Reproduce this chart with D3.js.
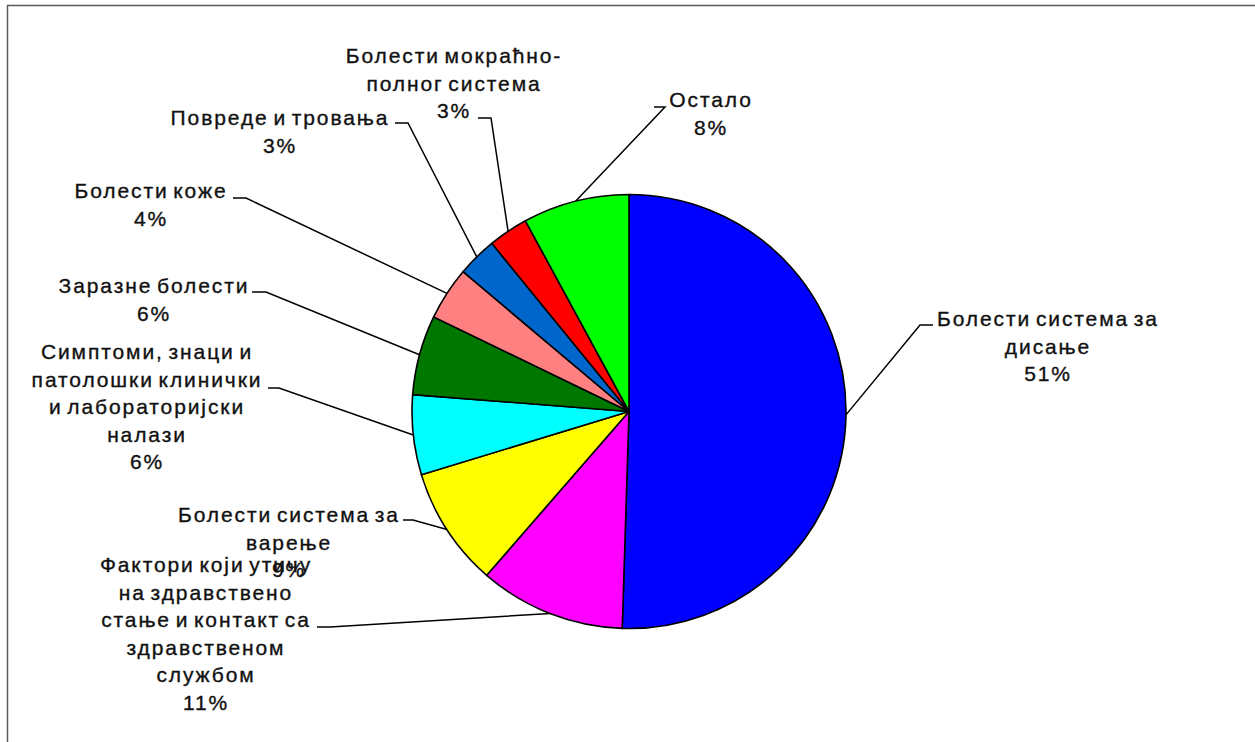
<!DOCTYPE html>
<html>
<head>
<meta charset="utf-8">
<script src="https://cdn.jsdelivr.net/npm/d3@7"></script>
<style>
  html, body { margin: 0; padding: 0; background: #fff; }
  svg { display: block; }
  text { font-family: "Liberation Sans", Arial, sans-serif; fill: #111; }
</style>
</head>
<body>
<svg id="chart" width="1255" height="742"></svg>
<script>
// Hospital discharges by diagnosis group (share, %)
const categories = [
  "Болести система за дисање",
  "Фактори који утичу на здравствено стање и контакт са здравственом службом",
  "Болести система за варење",
  "Симптоми, знаци и патолошки клинички и лабораторијски налази",
  "Заразне болести",
  "Болести коже",
  "Повреде и тровања",
  "Болести мокраћно-полног система",
  "Остало"
];
const values = [51, 11, 9, 6, 6, 4, 3, 3, 8];
const colors = ["#0000ff", "#ff00ff", "#ffff00", "#00ffff", "#007800",
                "#ff8080", "#0066cc", "#ff0000", "#00ff00"];

// Wrapped label text, one array of lines per category
const labelLines = [
  ["Болести система за", "дисање"],
  ["Фактори који утичу", "на здравствено", "стање и контакт са", "здравственом", "службом"],
  ["Болести система за", "варење"],
  ["Симптоми, знаци и", "патолошки клинички", "и лабораторијски", "налази"],
  ["Заразне болести"],
  ["Болести коже"],
  ["Повреде и тровања"],
  ["Болести мокраћно-", "полног система"],
  ["Остало"]
];

// Label placement: text centre x, first baseline y, leader stub [x from text, x toward pie], stub y
const labelLayout = [
  { cx: 1048, y: 326, stub: [933, 920], sy: 325 },
  { cx: 206,  y: 572, stub: [317, 330], sy: 627 },
  { cx: 289,  y: 522, stub: [403, 413], sy: 520 },
  { cx: 147,  y: 359, stub: [268, 279], sy: 388 },
  { cx: 154,  y: 293, stub: [252, 266], sy: 292 },
  { cx: 151,  y: 198, stub: [233, 246], sy: 198 },
  { cx: 280,  y: 125, stub: [395, 408], sy: 123 },
  { cx: 454,  y: 63,  stub: [478, 491], sy: 118 },
  { cx: 711,  y: 107, stub: [654, 665], sy: 107 }
];

const svg = d3.select("#chart");
const W = 1255, H = 742;
const cx = 629, cy = 411.5, R = 217;
const lineH = 27.5;

// Frame (top and left edges)
svg.append("path")
  .attr("d", `M7.5,${H} L7.5,5.5 L${W},5.5`)
  .attr("fill", "none")
  .attr("stroke", "#5a5a5a")
  .attr("stroke-width", 1.5);

const pie = d3.pie().sort(null).value(d => d);
const arcs = pie(values);
const arc = d3.arc().innerRadius(0).outerRadius(R);
const edge = d3.arc().innerRadius(R).outerRadius(R);

const g = svg.append("g").attr("transform", `translate(${cx},${cy})`);

g.selectAll("path.slice")
  .data(arcs)
  .join("path")
  .attr("class", "slice")
  .attr("d", arc)
  .attr("fill", (d, i) => colors[i])
  .attr("stroke", "#000")
  .attr("stroke-width", 1.6)
  .attr("stroke-linejoin", "round");

// Leader lines: horizontal stub next to the label, then straight to the slice edge
svg.selectAll("path.leader")
  .data(arcs)
  .join("path")
  .attr("class", "leader")
  .attr("d", (d, i) => {
    const L = labelLayout[i];
    const [ex, ey] = edge.centroid(d);
    return d3.line()([[L.stub[0], L.sy], [L.stub[1], L.sy], [cx + ex, cy + ey]]);
  })
  .attr("fill", "none")
  .attr("stroke", "#000")
  .attr("stroke-width", 1.5);

// Labels: category lines followed by the percentage
const labels = svg.selectAll("text.label")
  .data(arcs)
  .join("text")
  .attr("class", "label")
  .attr("text-anchor", "middle")
  .attr("font-size", 21)
  .attr("letter-spacing", 1.9)
  .attr("word-spacing", -3)
  .attr("stroke", "#111")
  .attr("stroke-width", 0.35)
  .attr("x", (d, i) => labelLayout[i].cx)
  .attr("y", (d, i) => labelLayout[i].y);

labels.each(function (d, i) {
  const L = labelLayout[i];
  const lines = labelLines[i].concat([d3.format("d")(values[i]) + "%"]);
  d3.select(this).selectAll("tspan")
    .data(lines)
    .join("tspan")
    .attr("x", L.cx)
    .attr("y", (t, k) => L.y + k * lineH)
    .text(t => t);
});
</script>
</body>
</html>
